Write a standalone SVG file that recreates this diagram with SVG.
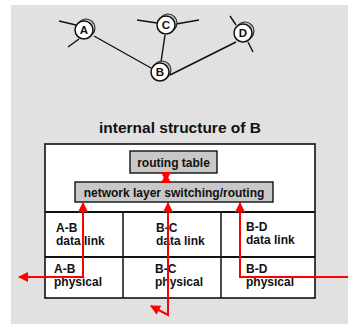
<svg xmlns="http://www.w3.org/2000/svg" width="348" height="324" viewBox="0 0 348 324">
<defs>
<style>
.bg{fill:#e1e1e1}
.edge{stroke:#111;stroke-width:1.4;fill:none}
.shadow{fill:#ccc;stroke:#222;stroke-width:1.1}
.disk{fill:#fff;stroke:#111;stroke-width:1.5}
.nl{font-family:"Liberation Sans",Arial,sans-serif;font-weight:bold;font-size:11.5px;fill:#111;text-anchor:middle}
.t{font-family:"Liberation Sans",Arial,sans-serif;font-weight:bold;font-size:12px;fill:#111}
.title{font-family:"Liberation Sans",Arial,sans-serif;font-weight:bold;font-size:15.5px;fill:#111;text-anchor:middle}
.box{fill:#fff;stroke:#111;stroke-width:1.6}
.gbox{fill:#c8c8c8;stroke:#111;stroke-width:1.4}
.div{stroke:#111;stroke-width:2;fill:none}
.vdiv{stroke:#111;stroke-width:1.5;fill:none}
.red{stroke:#f00;stroke-width:2;fill:none}
</style>
<marker id="ah" viewBox="0 0 10 10" refX="9" refY="5" markerWidth="5" markerHeight="5" orient="auto-start-reverse" markerUnits="strokeWidth">
<path d="M0,0 L10,5 L0,10 Z" fill="#f00"/>
</marker>
</defs>
<rect class="bg" x="11" y="5" width="337" height="319"/>
<g id="connectors">
<path class="edge" d="M94,36 L151,68"/>
<path class="edge" d="M165,35 L161,62"/>
<path class="edge" d="M170,75 L236,42"/>
<path class="edge" d="M59,21 L76,25"/>
<path class="edge" d="M68,47 L79,39"/>
<path class="edge" d="M137,20 L157,23"/>
<path class="edge" d="M176,24 L199,20"/>
<path class="edge" d="M230,16 L236,25"/>
<path class="edge" d="M248,42 L253,52"/>
</g>
<g id="node-A">
<circle class="shadow" cx="86" cy="28" r="9"/>
<circle class="disk" cx="84" cy="30" r="9"/>
<text class="nl" x="84" y="34">A</text>
</g>
<g id="node-C">
<circle class="shadow" cx="168" cy="23" r="9"/>
<circle class="disk" cx="166" cy="25" r="9"/>
<text class="nl" x="166" y="29">C</text>
</g>
<g id="node-D">
<circle class="shadow" cx="245" cy="31" r="9"/>
<circle class="disk" cx="243" cy="33" r="9"/>
<text class="nl" x="243" y="37">D</text>
</g>
<g id="node-B">
<circle class="shadow" cx="162" cy="70" r="9"/>
<circle class="disk" cx="160" cy="72" r="9"/>
<text class="nl" x="160" y="76">B</text>
</g>
<text class="title" x="180" y="133">internal structure of B</text>
<g id="router-B">
<rect class="box" x="45" y="144" width="270" height="154"/>
<path class="div" d="M45,212 H315 M45,257 H315"/>
<path class="vdiv" d="M123,212 V298 M221,212 V298"/>
</g>
<g id="routing-table">
<rect class="gbox" x="130" y="151" width="87" height="22"/>
<text class="t" x="173.5" y="166.5" text-anchor="middle">routing table</text>
</g>
<g id="network-layer">
<rect class="gbox" x="75" y="182" width="198" height="20"/>
<text class="t" x="174" y="196.5" text-anchor="middle">network layer switching/routing</text>
</g>
<g id="ab-datalink"><text class="t" x="56" y="232">A-B</text><text class="t" x="56" y="245">data link</text></g>
<g id="bc-datalink"><text class="t" x="156" y="232">B-C</text><text class="t" x="156" y="245">data link</text></g>
<g id="bd-datalink"><text class="t" x="246" y="231">B-D</text><text class="t" x="246" y="244">data link</text></g>
<g id="ab-physical"><text class="t" x="54" y="273">A-B</text><text class="t" x="54" y="286">physical</text></g>
<g id="bc-physical"><text class="t" x="155" y="273">B-C</text><text class="t" x="155" y="286">physical</text></g>
<g id="bd-physical"><text class="t" x="246" y="273">B-D</text><text class="t" x="246" y="286">physical</text></g>
<g id="flows">
<path class="red" d="M166,174 V181" marker-start="url(#ah)" marker-end="url(#ah)"/>
<path class="red" d="M83,203 V277 H19" marker-start="url(#ah)" marker-end="url(#ah)"/>
<path class="red" d="M168,203 V315 L151,306" marker-start="url(#ah)" marker-end="url(#ah)"/>
<path class="red" d="M240,203 V277 H348" marker-start="url(#ah)"/>
</g>
</svg>
